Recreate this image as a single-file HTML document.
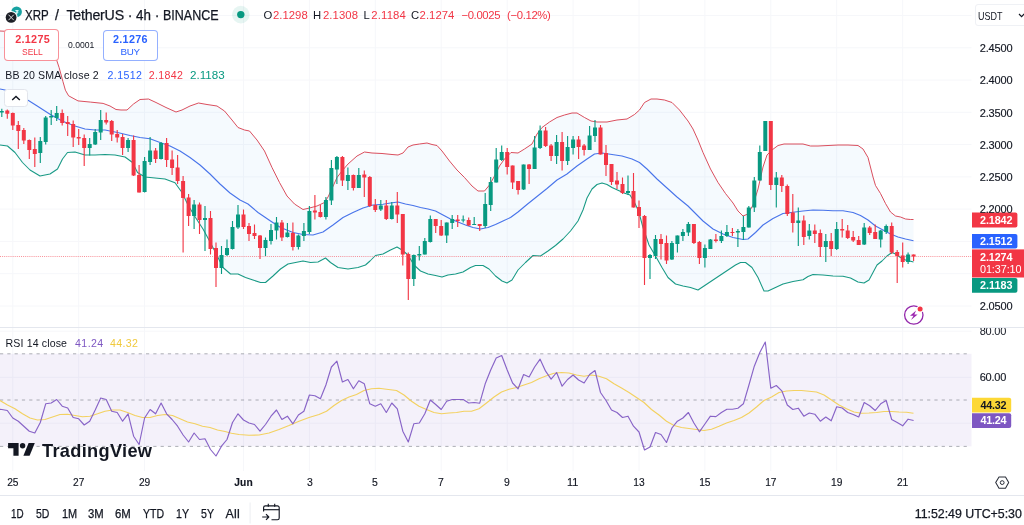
<!DOCTYPE html><html><head><meta charset="utf-8"><title>XRP / TetherUS chart</title><style>
html,body{margin:0;padding:0;background:#fff}
body{width:1024px;height:525px;position:relative;overflow:hidden;font-family:"Liberation Sans",sans-serif;color:#131722}
.t{position:absolute;white-space:nowrap;line-height:1;transform-origin:0 50%}
.btn{position:absolute;background:#fff;border:1px solid;border-radius:4px;box-sizing:border-box}
</style></head><body>
<svg width="1024" height="525" viewBox="0 0 1024 525" style="position:absolute;left:0;top:0">
<path d="M12.8,0 V471 M78.7,0 V471 M144.6,0 V471 M243.5,0 V471 M309.4,0 V471 M375.3,0 V471 M441.2,0 V471 M507.2,0 V471 M573.1,0 V471 M639.0,0 V471 M704.9,0 V471 M770.8,0 V471 M836.7,0 V471 M902.7,0 V471 M0,15.5 H971.5 M0,47.8 H971.5 M0,80.1 H971.5 M0,112.3 H971.5 M0,144.6 H971.5 M0,176.9 H971.5 M0,209.1 H971.5 M0,241.4 H971.5 M0,273.7 H971.5 M0,306.0 H971.5 M0,331.2 H971.5 M0,377.3 H971.5 M0,423.2 H971.5" stroke="#f6f7fa" stroke-width="1" fill="none"/>
<path d="M0,327.5 H1024" stroke="#e4e7ee" stroke-width="1"/>
<path d="M0.0,31.0 L20.0,32.0 L40.0,36.0 L52.0,48.0 L56.6,60.0 L59.1,67.5 L62.9,81.4 L65.4,90.2 L68.6,95.8 L78.0,100.9 L90.6,102.1 L103.1,103.4 L110.0,106.0 L116.0,109.5 L121.0,110.0 L127.0,110.0 L133.5,104.0 L140.0,99.5 L148.5,99.0 L156.0,102.5 L166.0,107.5 L176.0,112.0 L182.0,110.0 L190.0,106.0 L198.5,103.0 L207.0,104.5 L217.0,106.0 L224.5,111.0 L232.0,120.0 L238.0,127.5 L244.5,130.0 L249.5,131.0 L257.0,140.0 L264.5,151.0 L272.0,167.5 L279.5,182.5 L287.0,196.0 L294.5,204.0 L303.0,209.5 L309.5,208.0 L317.0,206.0 L324.5,202.5 L328.0,197.0 L332.0,188.5 L337.0,177.5 L342.0,171.0 L348.0,164.0 L357.0,156.0 L364.5,152.0 L372.0,153.0 L382.0,153.5 L392.0,154.5 L398.0,155.0 L403.0,153.0 L408.0,147.0 L413.0,145.0 L419.5,144.0 L427.0,143.0 L432.0,144.5 L437.0,145.5 L442.0,151.0 L449.5,161.0 L457.0,170.0 L464.5,177.5 L472.0,186.0 L478.0,191.0 L484.5,191.0 L489.5,185.0 L494.5,176.0 L499.5,166.0 L504.5,159.0 L511.0,152.5 L518.0,153.0 L524.5,149.0 L532.0,144.0 L537.0,134.0 L542.0,127.5 L549.5,122.0 L557.0,117.5 L564.5,115.0 L572.0,113.0 L577.0,113.0 L584.5,117.5 L591.0,121.0 L597.0,122.0 L607.0,122.0 L617.0,120.0 L627.0,119.0 L634.5,114.5 L639.5,110.0 L644.5,102.5 L651.0,99.0 L657.0,99.0 L664.5,100.0 L672.0,102.5 L679.5,110.0 L688.0,121.0 L693.0,129.0 L698.0,140.0 L703.0,152.5 L710.5,169.0 L718.0,182.5 L725.5,193.5 L733.0,203.0 L738.0,211.0 L743.0,216.0 L748.0,214.0 L753.0,205.0 L758.0,189.0 L763.0,167.0 L767.0,155.0 L772.0,150.0 L778.0,145.5 L784.0,144.0 L793.0,144.0 L803.0,144.0 L810.5,146.0 L818.0,146.0 L828.0,145.5 L838.0,145.0 L848.0,145.0 L858.0,145.5 L863.0,149.0 L868.0,157.5 L873.0,177.0 L875.5,185.5 L880.5,193.5 L885.5,203.5 L890.5,212.0 L895.5,216.0 L900.5,217.0 L905.5,219.0 L910.5,219.5 L913.5,219.5 L913.5,262.0 L905.5,260.0 L900.5,257.5 L895.5,254.0 L892.0,252.5 L887.0,256.0 L882.0,261.0 L877.0,265.0 L873.0,272.5 L869.0,280.0 L864.0,283.0 L858.0,282.0 L850.5,278.0 L843.0,276.3 L833.0,276.0 L823.0,275.0 L813.0,274.5 L808.0,276.5 L803.0,279.7 L793.0,281.5 L783.0,284.0 L775.5,287.5 L768.0,291.0 L764.0,291.0 L758.0,277.5 L752.0,267.5 L745.5,262.5 L740.5,262.5 L735.5,265.0 L728.0,270.0 L720.5,275.0 L713.0,280.0 L705.5,285.0 L698.0,290.0 L690.5,287.5 L683.0,286.0 L675.5,284.0 L668.0,277.5 L662.0,267.5 L655.5,256.0 L649.0,245.0 L643.0,227.5 L638.5,211.0 L634.5,202.5 L630.0,195.0 L624.0,193.0 L618.0,190.3 L612.0,187.5 L607.0,184.5 L602.0,183.0 L597.0,184.5 L592.0,189.0 L587.0,198.0 L583.0,210.0 L578.0,221.0 L570.5,231.0 L563.0,239.0 L555.5,245.5 L548.0,251.0 L540.5,256.0 L533.0,255.5 L525.5,262.5 L518.0,270.0 L512.0,280.0 L507.0,283.0 L502.0,281.0 L495.5,276.0 L489.0,269.0 L483.0,265.5 L475.5,265.5 L470.5,267.5 L463.0,272.0 L455.5,274.0 L448.0,275.0 L442.0,277.0 L435.5,275.5 L428.0,274.0 L420.5,271.0 L414.0,265.0 L408.0,255.0 L402.0,250.0 L397.0,247.0 L390.5,250.0 L383.0,254.0 L375.5,255.5 L370.0,261.0 L365.5,265.0 L358.0,267.5 L348.0,269.0 L338.0,267.5 L330.5,262.5 L325.5,258.0 L318.0,262.0 L310.5,262.5 L303.0,261.0 L295.5,262.5 L288.0,264.0 L280.5,269.0 L273.0,276.0 L265.5,282.5 L260.5,282.5 L253.0,280.0 L245.5,277.5 L238.0,274.0 L230.5,274.0 L223.0,267.5 L215.5,252.5 L209.0,240.0 L203.0,229.0 L195.5,217.5 L188.0,205.0 L182.0,192.5 L175.0,182.7 L165.0,179.0 L155.0,178.0 L145.0,177.0 L137.5,172.5 L132.5,162.5 L125.0,157.0 L115.0,155.0 L105.0,154.5 L95.0,155.0 L85.0,155.0 L75.0,152.0 L67.5,152.5 L62.5,159.0 L57.5,169.0 L50.0,174.0 L40.0,176.0 L30.0,170.0 L22.5,162.5 L15.0,152.5 L7.5,146.0 L0.0,145.0 Z" fill="#2196f3" fill-opacity="0.048" stroke="none"/>
<path d="M0.0,31.0 L20.0,32.0 L40.0,36.0 L52.0,48.0 L56.6,60.0 L59.1,67.5 L62.9,81.4 L65.4,90.2 L68.6,95.8 L78.0,100.9 L90.6,102.1 L103.1,103.4 L110.0,106.0 L116.0,109.5 L121.0,110.0 L127.0,110.0 L133.5,104.0 L140.0,99.5 L148.5,99.0 L156.0,102.5 L166.0,107.5 L176.0,112.0 L182.0,110.0 L190.0,106.0 L198.5,103.0 L207.0,104.5 L217.0,106.0 L224.5,111.0 L232.0,120.0 L238.0,127.5 L244.5,130.0 L249.5,131.0 L257.0,140.0 L264.5,151.0 L272.0,167.5 L279.5,182.5 L287.0,196.0 L294.5,204.0 L303.0,209.5 L309.5,208.0 L317.0,206.0 L324.5,202.5 L328.0,197.0 L332.0,188.5 L337.0,177.5 L342.0,171.0 L348.0,164.0 L357.0,156.0 L364.5,152.0 L372.0,153.0 L382.0,153.5 L392.0,154.5 L398.0,155.0 L403.0,153.0 L408.0,147.0 L413.0,145.0 L419.5,144.0 L427.0,143.0 L432.0,144.5 L437.0,145.5 L442.0,151.0 L449.5,161.0 L457.0,170.0 L464.5,177.5 L472.0,186.0 L478.0,191.0 L484.5,191.0 L489.5,185.0 L494.5,176.0 L499.5,166.0 L504.5,159.0 L511.0,152.5 L518.0,153.0 L524.5,149.0 L532.0,144.0 L537.0,134.0 L542.0,127.5 L549.5,122.0 L557.0,117.5 L564.5,115.0 L572.0,113.0 L577.0,113.0 L584.5,117.5 L591.0,121.0 L597.0,122.0 L607.0,122.0 L617.0,120.0 L627.0,119.0 L634.5,114.5 L639.5,110.0 L644.5,102.5 L651.0,99.0 L657.0,99.0 L664.5,100.0 L672.0,102.5 L679.5,110.0 L688.0,121.0 L693.0,129.0 L698.0,140.0 L703.0,152.5 L710.5,169.0 L718.0,182.5 L725.5,193.5 L733.0,203.0 L738.0,211.0 L743.0,216.0 L748.0,214.0 L753.0,205.0 L758.0,189.0 L763.0,167.0 L767.0,155.0 L772.0,150.0 L778.0,145.5 L784.0,144.0 L793.0,144.0 L803.0,144.0 L810.5,146.0 L818.0,146.0 L828.0,145.5 L838.0,145.0 L848.0,145.0 L858.0,145.5 L863.0,149.0 L868.0,157.5 L873.0,177.0 L875.5,185.5 L880.5,193.5 L885.5,203.5 L890.5,212.0 L895.5,216.0 L900.5,217.0 L905.5,219.0 L910.5,219.5 L913.5,219.5" fill="none" stroke="#d63c4c" stroke-width="1.0" stroke-opacity="0.9" stroke-linejoin="round"/>
<path d="M0.0,145.0 L7.5,146.0 L15.0,152.5 L22.5,162.5 L30.0,170.0 L40.0,176.0 L50.0,174.0 L57.5,169.0 L62.5,159.0 L67.5,152.5 L75.0,152.0 L85.0,155.0 L95.0,155.0 L105.0,154.5 L115.0,155.0 L125.0,157.0 L132.5,162.5 L137.5,172.5 L145.0,177.0 L155.0,178.0 L165.0,179.0 L175.0,182.7 L182.0,192.5 L188.0,205.0 L195.5,217.5 L203.0,229.0 L209.0,240.0 L215.5,252.5 L223.0,267.5 L230.5,274.0 L238.0,274.0 L245.5,277.5 L253.0,280.0 L260.5,282.5 L265.5,282.5 L273.0,276.0 L280.5,269.0 L288.0,264.0 L295.5,262.5 L303.0,261.0 L310.5,262.5 L318.0,262.0 L325.5,258.0 L330.5,262.5 L338.0,267.5 L348.0,269.0 L358.0,267.5 L365.5,265.0 L370.0,261.0 L375.5,255.5 L383.0,254.0 L390.5,250.0 L397.0,247.0 L402.0,250.0 L408.0,255.0 L414.0,265.0 L420.5,271.0 L428.0,274.0 L435.5,275.5 L442.0,277.0 L448.0,275.0 L455.5,274.0 L463.0,272.0 L470.5,267.5 L475.5,265.5 L483.0,265.5 L489.0,269.0 L495.5,276.0 L502.0,281.0 L507.0,283.0 L512.0,280.0 L518.0,270.0 L525.5,262.5 L533.0,255.5 L540.5,256.0 L548.0,251.0 L555.5,245.5 L563.0,239.0 L570.5,231.0 L578.0,221.0 L583.0,210.0 L587.0,198.0 L592.0,189.0 L597.0,184.5 L602.0,183.0 L607.0,184.5 L612.0,187.5 L618.0,190.3 L624.0,193.0 L630.0,195.0 L634.5,202.5 L638.5,211.0 L643.0,227.5 L649.0,245.0 L655.5,256.0 L662.0,267.5 L668.0,277.5 L675.5,284.0 L683.0,286.0 L690.5,287.5 L698.0,290.0 L705.5,285.0 L713.0,280.0 L720.5,275.0 L728.0,270.0 L735.5,265.0 L740.5,262.5 L745.5,262.5 L752.0,267.5 L758.0,277.5 L764.0,291.0 L768.0,291.0 L775.5,287.5 L783.0,284.0 L793.0,281.5 L803.0,279.7 L808.0,276.5 L813.0,274.5 L823.0,275.0 L833.0,276.0 L843.0,276.3 L850.5,278.0 L858.0,282.0 L864.0,283.0 L869.0,280.0 L873.0,272.5 L877.0,265.0 L882.0,261.0 L887.0,256.0 L892.0,252.5 L895.5,254.0 L900.5,257.5 L905.5,260.0 L913.5,262.0" fill="none" stroke="#0b937d" stroke-width="1.05" stroke-opacity="0.95" stroke-linejoin="round"/>
<path d="M0.0,89.0 L5.0,90.0 L15.0,94.0 L28.5,100.5 L37.6,106.3 L50.0,114.2 L62.7,121.3 L75.0,126.0 L85.0,129.0 L95.0,130.0 L105.0,130.0 L117.5,132.5 L130.0,135.5 L140.0,137.5 L150.0,138.8 L160.0,142.5 L170.0,146.0 L180.0,151.0 L190.0,157.5 L200.0,165.0 L210.0,174.0 L220.0,184.0 L230.0,193.0 L240.0,200.0 L248.0,204.0 L258.0,212.5 L270.5,221.0 L280.5,227.5 L293.0,232.5 L303.0,234.5 L313.0,235.0 L323.0,232.0 L333.0,225.0 L343.0,217.5 L353.0,212.5 L363.0,208.0 L373.0,205.0 L383.0,204.3 L390.5,203.0 L398.0,202.0 L405.5,204.0 L413.0,205.5 L420.5,207.5 L428.0,209.0 L435.5,211.0 L443.0,215.0 L450.5,219.0 L458.0,222.0 L465.5,225.0 L473.0,227.5 L480.5,229.0 L488.0,227.5 L495.5,224.5 L503.0,221.0 L510.5,217.5 L518.0,212.0 L527.0,204.5 L537.0,196.5 L547.0,188.5 L557.0,180.0 L567.0,174.0 L577.0,166.0 L587.0,159.0 L594.5,154.0 L602.0,153.0 L612.0,154.5 L622.0,156.0 L632.0,159.0 L639.5,162.5 L647.0,169.0 L657.0,179.0 L667.0,188.0 L677.0,197.0 L688.0,206.0 L693.0,211.0 L703.0,221.0 L713.0,229.0 L723.0,234.0 L733.0,237.5 L743.0,239.5 L748.0,239.0 L755.5,232.5 L763.0,225.0 L773.0,218.5 L783.0,213.5 L793.0,212.2 L803.0,211.0 L813.0,210.0 L823.0,210.2 L833.0,210.7 L843.0,210.7 L853.0,212.5 L860.5,215.5 L868.0,220.0 L875.5,226.0 L883.0,230.0 L890.5,234.0 L898.0,237.0 L905.5,239.0 L913.5,240.8" fill="none" stroke="#3565e8" stroke-width="1.1" stroke-opacity="0.9" stroke-linejoin="round"/>
<path d="M0,256.5 H971.5" stroke="#f23645" stroke-width="1" stroke-dasharray="1 1.1" stroke-opacity="0.55"/>
<path d="M1.8,108.8 V117.0 M40.3,137.0 V163.0 M45.7,116.0 V144.5 M51.2,110.0 V125.0 M56.7,106.0 V121.0 M89.7,138.0 V155.5 M95.2,129.0 V145.0 M100.7,110.0 V140.0 M128.1,138.0 V152.0 M144.6,157.0 V192.5 M150.1,137.0 V165.0 M161.1,142.0 V159.5 M194.1,200.0 V229.0 M205.0,206.0 V251.0 M221.5,246.0 V274.0 M227.0,239.5 V256.0 M232.5,221.0 V249.5 M238.0,205.0 V229.0 M265.5,237.5 V256.0 M271.0,224.0 V244.5 M276.5,217.0 V239.5 M287.4,223.0 V237.5 M298.4,234.5 V249.5 M303.9,223.0 V241.0 M309.4,206.0 V234.0 M325.9,197.0 V219.5 M331.4,160.0 V205.0 M336.9,156.0 V184.0 M347.9,167.5 V190.0 M358.8,168.0 V188.0 M380.8,200.0 V211.0 M391.8,202.0 V219.5 M413.8,254.5 V286.0 M419.3,246.0 V260.5 M424.8,238.0 V254.5 M430.3,215.5 V242.5 M446.7,222.5 V243.0 M452.2,215.0 V229.0 M463.2,215.5 V222.5 M474.2,217.0 V225.0 M485.2,193.0 V228.0 M490.7,177.0 V211.0 M496.2,148.0 V182.5 M501.7,145.5 V161.0 M523.6,164.5 V190.0 M534.6,136.0 V169.0 M540.1,125.5 V149.0 M556.6,135.0 V164.0 M567.6,136.0 V165.0 M573.1,136.0 V154.5 M589.6,126.0 V150.0 M595.0,120.0 V142.0 M628.0,175.5 V195.0 M650.0,254.0 V279.0 M655.5,235.0 V259.0 M671.9,241.0 V260.0 M677.4,235.5 V252.5 M682.9,229.0 V241.0 M688.4,222.0 V236.0 M704.9,244.5 V267.5 M710.4,239.0 V249.0 M721.4,230.5 V243.0 M726.9,225.0 V237.0 M737.9,229.0 V247.0 M743.4,216.0 V240.0 M748.8,206.0 V227.5 M754.3,177.0 V212.0 M759.8,145.5 V180.5 M765.3,121.0 V151.0 M776.3,172.0 V207.5 M798.3,207.5 V246.0 M809.3,224.0 V239.5 M825.8,234.0 V262.0 M836.7,222.0 V250.0 M864.2,223.0 V245.0 M880.7,230.0 V247.5 M886.2,224.5 V234.0 M908.1,252.5 V264.0" stroke="#089981" stroke-width="1.12" fill="none"/>
<path d="M7.3,109.5 V118.8 M12.8,112.5 V130.0 M18.3,121.0 V149.0 M23.8,128.0 V144.0 M29.3,139.5 V159.0 M34.8,137.5 V167.0 M62.2,109.5 V125.5 M67.7,116.0 V136.0 M73.2,120.5 V147.0 M78.7,129.0 V145.0 M84.2,134.5 V166.0 M106.2,112.5 V124.5 M111.7,120.0 V141.0 M117.2,130.0 V142.5 M122.6,134.0 V155.0 M133.6,135.5 V176.0 M139.1,165.0 V192.5 M155.6,148.0 V163.0 M166.6,138.0 V167.0 M172.1,150.5 V175.0 M177.6,155.0 V184.0 M183.1,176.0 V252.5 M188.6,194.0 V226.0 M199.5,202.5 V234.0 M210.5,211.0 V254.5 M216.0,242.5 V287.0 M243.5,209.5 V229.0 M249.0,223.0 V241.0 M254.5,224.5 V239.0 M260.0,235.0 V259.0 M281.9,220.0 V241.0 M292.9,222.5 V250.5 M314.9,195.0 V219.5 M320.4,205.0 V217.5 M342.4,156.0 V186.0 M353.4,174.5 V190.5 M364.3,170.5 V197.0 M369.8,176.0 V207.0 M375.3,199.0 V212.0 M386.3,200.0 V220.0 M397.3,192.0 V223.0 M402.8,214.0 V265.5 M408.3,252.5 V300.0 M435.7,219.0 V233.0 M441.2,220.0 V236.0 M457.7,215.0 V227.0 M468.7,217.5 V226.0 M479.7,224.0 V231.0 M507.2,148.0 V174.5 M512.6,165.5 V189.0 M518.1,181.0 V194.5 M529.1,164.0 V184.0 M545.6,127.0 V147.0 M551.1,144.0 V161.0 M562.1,132.0 V170.5 M578.6,136.0 V159.0 M584.1,144.0 V155.5 M600.5,125.0 V154.5 M606.0,145.0 V176.0 M611.5,164.0 V185.0 M617.0,172.0 V189.0 M622.5,177.5 V194.0 M633.5,173.0 V207.5 M639.0,200.5 V228.0 M644.5,215.0 V285.0 M661.0,234.0 V259.5 M666.5,235.5 V264.0 M693.9,224.0 V244.0 M699.4,241.0 V264.0 M715.9,234.0 V242.5 M732.4,228.0 V236.0 M770.8,121.0 V190.0 M781.8,175.0 V192.0 M787.3,184.5 V216.0 M792.8,194.0 V232.5 M803.8,215.5 V245.0 M814.8,224.5 V243.0 M820.3,229.5 V257.0 M831.2,233.0 V256.0 M842.2,219.0 V237.5 M847.7,225.0 V239.0 M853.2,231.0 V242.0 M858.7,236.0 V245.0 M869.7,226.0 V235.0 M875.2,224.5 V239.0 M891.7,222.5 V254.0 M897.2,250.0 V283.0 M902.7,242.5 V267.5 M913.6,254.5 V261.0" stroke="#f23645" stroke-width="1.12" fill="none"/>
<path d="M-0.2,111.0 h4 V112.5 h-4 Z M38.3,141.0 h4 V153.0 h-4 Z M43.7,117.5 h4 V142.0 h-4 Z M49.2,116.0 h4 V117.5 h-4 Z M54.7,113.0 h4 V118.0 h-4 Z M87.7,144.0 h4 V148.0 h-4 Z M93.2,132.0 h4 V144.5 h-4 Z M98.7,120.0 h4 V132.5 h-4 Z M126.1,140.0 h4 V148.0 h-4 Z M142.6,161.0 h4 V192.0 h-4 Z M148.1,150.5 h4 V162.0 h-4 Z M159.1,143.0 h4 V159.0 h-4 Z M192.1,204.5 h4 V216.0 h-4 Z M203.0,218.0 h4 V220.0 h-4 Z M219.5,255.0 h4 V268.0 h-4 Z M225.0,248.0 h4 V255.0 h-4 Z M230.5,227.0 h4 V249.0 h-4 Z M236.0,214.5 h4 V227.5 h-4 Z M263.5,240.0 h4 V248.0 h-4 Z M269.0,230.0 h4 V241.0 h-4 Z M274.5,222.5 h4 V230.5 h-4 Z M285.4,232.5 h4 V237.0 h-4 Z M296.4,235.5 h4 V247.0 h-4 Z M301.9,231.0 h4 V236.0 h-4 Z M307.4,211.0 h4 V232.0 h-4 Z M323.9,200.0 h4 V217.0 h-4 Z M329.4,168.0 h4 V200.5 h-4 Z M334.9,157.0 h4 V169.5 h-4 Z M345.9,175.0 h4 V181.0 h-4 Z M356.8,175.0 h4 V188.0 h-4 Z M378.8,205.5 h4 V209.5 h-4 Z M389.8,205.5 h4 V219.0 h-4 Z M411.8,255.0 h4 V279.0 h-4 Z M417.3,254.0 h4 V255.5 h-4 Z M422.8,241.0 h4 V254.5 h-4 Z M428.3,219.0 h4 V242.0 h-4 Z M444.7,222.5 h4 V235.5 h-4 Z M450.2,219.0 h4 V223.0 h-4 Z M461.2,219.5 h4 V220.5 h-4 Z M472.2,224.0 h4 V225.0 h-4 Z M483.2,204.0 h4 V226.0 h-4 Z M488.7,182.0 h4 V205.0 h-4 Z M494.2,159.5 h4 V182.5 h-4 Z M499.7,152.0 h4 V160.0 h-4 Z M521.6,164.5 h4 V189.5 h-4 Z M532.6,147.5 h4 V169.0 h-4 Z M538.1,130.5 h4 V148.0 h-4 Z M554.6,142.0 h4 V156.0 h-4 Z M565.6,147.0 h4 V161.0 h-4 Z M571.1,139.5 h4 V148.0 h-4 Z M587.6,135.5 h4 V150.0 h-4 Z M593.0,127.5 h4 V136.0 h-4 Z M626.0,191.0 h4 V193.0 h-4 Z M648.0,255.0 h4 V258.0 h-4 Z M653.5,239.0 h4 V256.0 h-4 Z M669.9,243.0 h4 V259.5 h-4 Z M675.4,235.5 h4 V244.0 h-4 Z M680.9,232.0 h4 V236.0 h-4 Z M686.4,224.0 h4 V232.5 h-4 Z M702.9,248.0 h4 V258.0 h-4 Z M708.4,239.5 h4 V249.0 h-4 Z M719.4,236.0 h4 V241.0 h-4 Z M724.9,232.0 h4 V236.0 h-4 Z M735.9,231.0 h4 V232.5 h-4 Z M741.4,227.0 h4 V232.0 h-4 Z M746.8,207.5 h4 V227.5 h-4 Z M752.3,180.5 h4 V207.5 h-4 Z M757.8,152.0 h4 V180.5 h-4 Z M763.3,121.0 h4 V151.0 h-4 Z M774.3,177.5 h4 V185.0 h-4 Z M796.3,220.5 h4 V223.0 h-4 Z M807.3,230.5 h4 V236.0 h-4 Z M823.8,241.0 h4 V247.0 h-4 Z M834.7,229.0 h4 V249.0 h-4 Z M862.2,227.5 h4 V244.5 h-4 Z M878.7,230.5 h4 V239.5 h-4 Z M884.2,226.0 h4 V232.0 h-4 Z M906.1,254.5 h4 V262.0 h-4 Z" fill="#089981"/>
<path d="M5.3,110.5 h4 V113.8 h-4 Z M10.8,113.0 h4 V125.5 h-4 Z M16.3,125.0 h4 V131.0 h-4 Z M21.8,130.0 h4 V140.5 h-4 Z M27.3,140.0 h4 V150.0 h-4 Z M32.8,149.0 h4 V154.0 h-4 Z M60.2,113.0 h4 V123.0 h-4 Z M65.7,122.0 h4 V124.0 h-4 Z M71.2,124.0 h4 V137.5 h-4 Z M76.7,137.0 h4 V138.5 h-4 Z M82.2,138.0 h4 V148.0 h-4 Z M104.2,120.0 h4 V122.5 h-4 Z M109.7,121.0 h4 V134.5 h-4 Z M115.2,134.0 h4 V137.5 h-4 Z M120.6,137.0 h4 V148.0 h-4 Z M131.6,140.0 h4 V175.5 h-4 Z M137.1,175.0 h4 V192.5 h-4 Z M153.6,150.5 h4 V159.0 h-4 Z M164.6,143.0 h4 V160.0 h-4 Z M170.1,159.5 h4 V168.0 h-4 Z M175.6,167.5 h4 V181.0 h-4 Z M181.1,181.0 h4 V198.0 h-4 Z M186.6,197.5 h4 V216.0 h-4 Z M197.5,204.5 h4 V220.0 h-4 Z M208.5,218.0 h4 V249.0 h-4 Z M214.0,248.0 h4 V268.0 h-4 Z M241.5,214.5 h4 V227.0 h-4 Z M247.0,226.0 h4 V234.0 h-4 Z M252.5,233.0 h4 V236.0 h-4 Z M258.0,235.5 h4 V248.0 h-4 Z M279.9,222.5 h4 V237.5 h-4 Z M290.9,233.0 h4 V247.0 h-4 Z M312.9,210.5 h4 V212.5 h-4 Z M318.4,212.0 h4 V217.0 h-4 Z M340.4,157.0 h4 V180.5 h-4 Z M351.4,175.0 h4 V188.0 h-4 Z M362.3,174.5 h4 V177.5 h-4 Z M367.8,177.0 h4 V206.0 h-4 Z M373.3,205.0 h4 V210.0 h-4 Z M384.3,205.5 h4 V219.0 h-4 Z M395.3,205.5 h4 V214.5 h-4 Z M400.8,214.0 h4 V254.5 h-4 Z M406.3,254.0 h4 V279.0 h-4 Z M433.7,219.0 h4 V226.0 h-4 Z M439.2,226.0 h4 V235.5 h-4 Z M455.7,219.5 h4 V221.0 h-4 Z M466.7,220.0 h4 V225.5 h-4 Z M477.7,224.0 h4 V226.0 h-4 Z M505.2,152.0 h4 V167.0 h-4 Z M510.6,165.5 h4 V182.5 h-4 Z M516.1,181.0 h4 V190.0 h-4 Z M527.1,164.5 h4 V169.0 h-4 Z M543.6,130.5 h4 V146.0 h-4 Z M549.1,145.5 h4 V156.0 h-4 Z M560.1,142.0 h4 V161.0 h-4 Z M576.6,139.5 h4 V147.0 h-4 Z M582.1,145.5 h4 V150.0 h-4 Z M598.5,127.5 h4 V154.5 h-4 Z M604.0,153.0 h4 V165.0 h-4 Z M609.5,164.0 h4 V182.0 h-4 Z M615.0,180.5 h4 V184.5 h-4 Z M620.5,184.0 h4 V193.0 h-4 Z M631.5,191.0 h4 V207.5 h-4 Z M637.0,207.0 h4 V216.0 h-4 Z M642.5,216.0 h4 V258.0 h-4 Z M659.0,239.0 h4 V244.0 h-4 Z M664.5,243.0 h4 V260.5 h-4 Z M691.9,224.0 h4 V243.0 h-4 Z M697.4,242.0 h4 V258.0 h-4 Z M713.9,239.5 h4 V241.0 h-4 Z M730.4,232.0 h4 V233.0 h-4 Z M768.8,121.0 h4 V185.0 h-4 Z M779.8,177.5 h4 V186.0 h-4 Z M785.3,186.0 h4 V214.0 h-4 Z M790.8,212.5 h4 V223.0 h-4 Z M801.8,220.5 h4 V237.0 h-4 Z M812.8,230.5 h4 V234.0 h-4 Z M818.3,233.0 h4 V247.0 h-4 Z M829.2,241.0 h4 V249.0 h-4 Z M840.2,229.0 h4 V230.5 h-4 Z M845.7,230.5 h4 V238.0 h-4 Z M851.2,237.0 h4 V240.5 h-4 Z M856.7,240.0 h4 V245.0 h-4 Z M867.7,227.5 h4 V233.0 h-4 Z M873.2,232.0 h4 V239.0 h-4 Z M889.7,226.0 h4 V252.5 h-4 Z M895.2,252.0 h4 V256.0 h-4 Z M900.7,255.5 h4 V262.0 h-4 Z M911.6,254.5 h4 V256.5 h-4 Z" fill="#f23645"/>
<rect x="0" y="353.8" width="971.5" height="92.6" fill="#7e57c2" fill-opacity="0.085"/>
<path d="M0,353.8 H969" stroke="#787b86" stroke-width="1" stroke-dasharray="3.2 4.1" stroke-opacity="0.6"/>
<path d="M0,400 H969" stroke="#787b86" stroke-width="1" stroke-dasharray="3.2 4.1" stroke-opacity="0.6"/>
<path d="M0,446.4 H969" stroke="#787b86" stroke-width="1" stroke-dasharray="3.2 4.1" stroke-opacity="0.6"/>
<path d="M0.0,400.5 L7.5,405.0 L15.0,408.8 L22.5,413.8 L30.0,418.0 L37.5,420.0 L45.0,419.5 L52.5,417.0 L60.0,414.5 L67.5,414.2 L75.0,415.5 L82.5,416.8 L90.0,416.2 L97.5,413.8 L105.0,411.2 L112.5,410.0 L120.0,410.0 L127.5,412.5 L135.0,415.5 L142.5,417.5 L150.0,417.5 L157.5,415.5 L165.0,414.5 L172.5,415.5 L180.0,418.8 L187.5,422.0 L195.0,423.8 L202.5,426.2 L210.0,427.5 L217.5,430.0 L225.0,431.5 L231.5,433.2 L239.0,434.5 L249.0,435.2 L259.0,435.0 L269.0,433.0 L279.0,429.5 L289.0,425.5 L299.0,421.2 L309.0,417.5 L319.0,414.5 L326.5,411.2 L334.0,405.5 L341.5,400.5 L349.0,397.0 L356.5,394.5 L364.0,390.5 L371.5,388.8 L379.0,388.2 L386.5,389.2 L396.5,390.5 L404.0,395.0 L411.5,401.2 L419.0,406.2 L426.5,409.5 L434.0,412.5 L441.5,413.8 L449.0,413.0 L456.5,412.5 L464.0,411.2 L471.5,411.2 L479.0,408.8 L486.5,403.0 L494.0,397.0 L501.5,392.0 L509.0,389.2 L516.5,387.5 L524.0,385.0 L531.5,382.5 L539.0,378.8 L546.5,375.8 L554.0,373.2 L561.5,372.5 L569.0,373.0 L576.5,375.0 L584.0,376.2 L591.5,375.0 L599.0,376.2 L606.5,378.8 L614.0,383.8 L621.5,388.0 L629.0,392.5 L636.5,397.5 L644.0,402.5 L651.5,409.5 L659.0,415.0 L666.5,421.2 L674.0,425.5 L681.5,427.5 L689.0,428.5 L696.5,429.5 L704.0,430.5 L711.5,429.2 L719.0,426.2 L726.5,423.0 L734.0,420.5 L741.5,417.5 L749.0,413.0 L756.5,407.0 L764.0,400.5 L771.5,397.0 L779.0,392.5 L786.5,391.0 L794.0,390.5 L801.5,390.5 L809.0,391.2 L816.5,392.0 L824.0,395.0 L831.5,400.0 L839.0,405.0 L846.5,408.8 L854.0,412.0 L861.5,413.2 L869.0,413.0 L876.5,412.5 L884.0,411.5 L891.5,411.5 L899.0,412.0 L906.5,412.2 L913.5,413.2" fill="none" stroke="#f3d160" stroke-width="1.15" stroke-linejoin="round"/>
<path d="M-3.7,409.0 L1.8,409.5 L7.3,410.5 L12.8,418.0 L18.3,421.2 L23.8,426.2 L29.3,431.2 L34.8,433.0 L40.3,422.5 L45.7,403.8 L51.2,403.0 L56.7,399.5 L62.2,406.2 L67.7,408.0 L73.2,417.5 L78.7,418.8 L84.2,425.0 L89.7,421.2 L95.2,410.0 L100.7,398.0 L106.2,399.5 L111.7,411.2 L117.2,412.5 L122.6,421.2 L128.1,413.8 L133.6,436.2 L139.1,444.5 L144.6,418.0 L150.1,409.5 L155.6,413.8 L161.1,403.0 L166.6,413.8 L172.1,419.5 L177.6,426.2 L183.1,435.0 L188.6,442.0 L194.1,433.0 L199.5,439.5 L205.0,438.8 L210.5,449.5 L216.0,456.0 L221.5,446.2 L227.0,439.5 L232.5,422.5 L238.0,413.8 L243.5,420.0 L249.0,423.0 L254.5,424.5 L260.0,431.2 L265.5,424.5 L271.0,416.2 L276.5,410.0 L281.9,419.5 L287.4,416.2 L292.9,423.8 L298.4,415.0 L303.9,411.2 L309.4,395.0 L314.9,395.8 L320.4,398.8 L325.9,385.0 L331.4,367.0 L336.9,361.2 L342.4,382.0 L347.9,379.5 L353.4,388.8 L358.8,380.8 L364.3,383.8 L369.8,403.8 L375.3,406.2 L380.8,403.8 L386.3,412.5 L391.8,403.0 L397.3,408.8 L402.8,431.2 L408.3,442.0 L413.8,423.8 L419.3,423.0 L424.8,413.8 L430.3,400.0 L435.7,404.5 L441.2,409.5 L446.7,401.2 L452.2,399.5 L457.7,399.5 L463.2,399.5 L468.7,403.0 L474.2,402.5 L479.7,403.2 L485.2,383.8 L490.7,370.0 L496.2,358.0 L501.7,355.5 L507.2,370.0 L512.6,383.0 L518.1,388.8 L523.6,374.5 L529.1,377.0 L534.6,367.0 L540.1,359.2 L545.6,371.2 L551.1,379.2 L556.6,372.5 L562.1,386.2 L567.6,379.5 L573.1,375.0 L578.6,380.0 L584.1,383.0 L589.6,374.5 L595.0,370.5 L600.5,392.5 L606.0,400.5 L611.5,410.0 L617.0,412.5 L622.5,417.5 L628.0,416.2 L633.5,426.2 L639.0,432.0 L644.5,450.0 L650.0,447.0 L655.5,432.5 L661.0,434.5 L666.5,442.5 L671.9,428.0 L677.4,421.2 L682.9,418.0 L688.4,412.5 L693.9,423.0 L699.4,431.8 L704.9,424.0 L710.4,416.2 L715.9,416.6 L721.4,412.5 L726.9,409.2 L732.4,409.2 L737.9,408.2 L743.4,403.8 L748.8,385.5 L754.3,366.2 L759.8,352.5 L765.3,342.0 L770.8,388.2 L776.3,385.5 L781.8,390.8 L787.3,405.0 L792.8,409.5 L798.3,408.2 L803.8,416.2 L809.3,413.0 L814.8,414.2 L820.3,421.2 L825.8,417.0 L831.2,420.8 L836.7,406.8 L842.2,408.0 L847.7,412.5 L853.2,414.5 L858.7,417.0 L864.2,402.5 L869.7,405.8 L875.2,410.5 L880.7,403.8 L886.2,400.5 L891.7,419.5 L897.2,422.5 L902.7,425.8 L908.1,419.2 L913.6,420.5" fill="none" stroke="#7e57c2" stroke-width="1.15" stroke-opacity="0.92" stroke-linejoin="round"/>
<path d="M0,495.5 H1024" stroke="#e4e7ee" stroke-width="1"/>
<path d="M250.1,502.5 V523.5" stroke="#eceef2" stroke-width="1"/>
<path d="M972,212.6 h43.4 a2,2 0 0 1 2,2 v11 a2,2 0 0 1 -2,2 h-43.4 Z" fill="#f23645"/>
<path d="M972,234 h43.4 a2,2 0 0 1 2,2 v10.5 a2,2 0 0 1 -2,2 h-43.4 Z" fill="#2962ff"/>
<rect x="972" y="249.4" width="52" height="28.1" fill="#f23645"/>
<path d="M972,278 h43.4 a2,2 0 0 1 2,2 v10.8 a2,2 0 0 1 -2,2 h-43.4 Z" fill="#089981"/>
<path d="M972,397.7 h37.2 a2,2 0 0 1 2,2 v10.7 a2,2 0 0 1 -2,2 h-37.2 Z" fill="#fdd835"/>
<path d="M972,413.3 h37.2 a2,2 0 0 1 2,2 v10.7 a2,2 0 0 1 -2,2 h-37.2 Z" fill="#7e57c2"/>
<circle cx="913.8" cy="315.0" r="9.2" fill="#fff" stroke="#9327ab" stroke-width="1.3"/>
<path d="M916.1,310.4 L910,315.7 L913.5,315.7 L911,320.1 L917.6,314.5 L914.3,314.5 Z" fill="#9c27b0"/>
<circle cx="920.1" cy="308.9" r="3.5" fill="#fff"/><circle cx="920.1" cy="308.9" r="2.5" fill="#f23645"/>
<path d="M1008.7,482.6 L1005.5,488.2 L999.0,488.2 L995.7,482.6 L999.0,477.0 L1005.5,477.0 Z" fill="none" stroke="#2a2e39" stroke-width="1.05" stroke-linejoin="round"/>
<circle cx="1002.2" cy="482.6" r="1.9" fill="none" stroke="#2a2e39" stroke-width="1.0"/>
<g fill="none" stroke="#131722" stroke-width="1.15" stroke-linejoin="round"><path d="M263.6,511.4 V507.6 a1.8,1.8 0 0 1 1.8,-1.8 h12 a1.8,1.8 0 0 1 1.8,1.8 V517.9 a1.8,1.8 0 0 1 -1.8,1.8 H271.5"/><path d="M263.6,509.7 H279.2"/><path d="M268.3,503.8 V506.8 M274.7,503.8 V506.8"/><path d="M262.2,517 H268.4 M266,514.2 L268.8,517 L266,519.8"/></g>
<circle cx="16.6" cy="11.7" r="5.3" fill="#17a2a2"/>
<text x="16.9" y="13.6" font-family="Liberation Sans, sans-serif" font-size="5.5" font-weight="700" fill="#e8ffff" text-anchor="middle">₮</text>
<circle cx="11.1" cy="17.4" r="6.5" fill="#fff"/><circle cx="11.1" cy="17.4" r="5.4" fill="#1c1f26"/>
<path d="M8.5,14.7 L13.8,20.2 M13.8,14.7 L8.5,20.2" stroke="#e4e4e6" stroke-width="0.95" fill="none"/>
<circle cx="240.8" cy="14.6" r="8.8" fill="#089981" fill-opacity="0.1"/><circle cx="240.8" cy="14.6" r="3.7" fill="#089981"/>
<path d="M8.1,443 H18.6 V455.7 H13.4 V448.2 H8.1 Z" fill="#131722"/><circle cx="22.6" cy="445.7" r="2.7" fill="#131722"/><path d="M28.6,443 H34.8 L29.6,455.7 H23.4 Z" fill="#131722"/>
</svg>
<div class="btn" style="left:4.4px;top:29.2px;width:54.7px;height:31.8px;border-color:rgba(242,54,69,.55)"></div>
<div class="btn" style="left:102.5px;top:29.5px;width:55.5px;height:31.3px;border-color:rgba(41,98,255,.5)"></div>
<div class="btn" style="left:3.5px;top:89.2px;width:24.8px;height:18px;border-color:#e2e5ec;border-radius:3.5px;background:#fff"></div>
<svg width="10" height="6" viewBox="0 0 10 6" style="position:absolute;left:10.9px;top:94.9px"><path d="M1.2,5 L5,1.4 L8.8,5" fill="none" stroke="#131722" stroke-width="1.4"/></svg>
<div class="btn" style="left:974.8px;top:3.8px;width:60px;height:22.4px;border-color:#eff1f5;border-radius:3px"></div>
<svg width="8" height="5" viewBox="0 0 8 5" style="position:absolute;left:1017.6px;top:13.2px"><path d="M1,1 L3.6,3.6 L6.2,1" fill="none" stroke="#131722" stroke-width="1.2"/></svg>
<div class="t" id="t0" style="left:25.20px;top:8.40px;font-size:14.2px;font-weight:400;color:#131722;transform:scaleX(0.8124);-webkit-text-stroke:0.25px #131722">XRP</div>
<div class="t" id="t1" style="left:55.00px;top:8.40px;font-size:14.2px;font-weight:400;color:#131722;-webkit-text-stroke:0.25px #131722">/</div>
<div class="t" id="t2" style="left:66.50px;top:8.40px;font-size:14.2px;font-weight:400;color:#131722;letter-spacing:-0.220px;-webkit-text-stroke:0.25px #131722">TetherUS</div>
<div class="t" id="t3" style="left:127.80px;top:8.40px;font-size:14.2px;font-weight:400;color:#131722;-webkit-text-stroke:0.25px #131722">·</div>
<div class="t" id="t4" style="left:135.80px;top:8.40px;font-size:14.2px;font-weight:400;color:#131722;transform:scaleX(0.9442);-webkit-text-stroke:0.25px #131722">4h</div>
<div class="t" id="t5" style="left:154.80px;top:8.40px;font-size:14.2px;font-weight:400;color:#131722;-webkit-text-stroke:0.25px #131722">·</div>
<div class="t" id="t6" style="left:162.60px;top:8.40px;font-size:14.2px;font-weight:400;color:#131722;transform:scaleX(0.8814);-webkit-text-stroke:0.25px #131722">BINANCE</div>
<div class="t" id="t7" style="left:263.50px;top:9.65px;font-size:11.3px;font-weight:400;color:#131722">O</div>
<div class="t" id="t8" style="left:272.90px;top:9.65px;font-size:11.3px;font-weight:400;color:#f23645;letter-spacing:0.048px">2.1298</div>
<div class="t" id="t9" style="left:313.10px;top:9.65px;font-size:11.3px;font-weight:400;color:#131722">H</div>
<div class="t" id="t10" style="left:323.00px;top:9.65px;font-size:11.3px;font-weight:400;color:#f23645;letter-spacing:0.087px">2.1308</div>
<div class="t" id="t11" style="left:363.40px;top:9.65px;font-size:11.3px;font-weight:400;color:#131722">L</div>
<div class="t" id="t12" style="left:371.30px;top:9.65px;font-size:11.3px;font-weight:400;color:#f23645;letter-spacing:0.156px">2.1184</div>
<div class="t" id="t13" style="left:411.00px;top:9.65px;font-size:11.3px;font-weight:400;color:#131722">C</div>
<div class="t" id="t14" style="left:419.60px;top:9.65px;font-size:11.3px;font-weight:400;color:#f23645;letter-spacing:0.047px">2.1274</div>
<div class="t" id="t15" style="left:461.40px;top:9.65px;font-size:11.3px;font-weight:400;color:#f23645;letter-spacing:-0.343px">−0.0025</div>
<div class="t" id="t16" style="left:507.00px;top:9.65px;font-size:11.3px;font-weight:400;color:#f23645;letter-spacing:-0.337px">(−0.12%)</div>
<div class="t" id="t17" style="left:5.30px;top:69.90px;font-size:10.6px;font-weight:400;color:#131722;letter-spacing:0.170px">BB 20 SMA close 2</div>
<div class="t" id="t18" style="left:107.50px;top:69.90px;font-size:10.6px;font-weight:400;color:#2962ff;letter-spacing:0.419px">2.1512</div>
<div class="t" id="t19" style="left:148.75px;top:69.90px;font-size:10.6px;font-weight:400;color:#f23645;letter-spacing:0.369px">2.1842</div>
<div class="t" id="t20" style="left:189.50px;top:69.90px;font-size:10.6px;font-weight:400;color:#089981;transform:scaleX(1.0988)">2.1183</div>
<div class="t" id="t21" style="left:5.50px;top:337.90px;font-size:10.6px;font-weight:400;color:#131722;letter-spacing:0.131px">RSI 14 close</div>
<div class="t" id="t22" style="left:75.00px;top:337.90px;font-size:10.6px;font-weight:400;color:#7e57c2;letter-spacing:0.434px">41.24</div>
<div class="t" id="t23" style="left:110.00px;top:337.90px;font-size:10.6px;font-weight:400;color:#f0c93c;letter-spacing:0.371px">44.32</div>
<div class="t" id="t24" style="left:979.70px;top:43.00px;font-size:11px;font-weight:400;color:#131722;letter-spacing:-0.151px;-webkit-text-stroke:0.15px #131722">2.4500</div>
<div class="t" id="t25" style="left:979.70px;top:75.27px;font-size:11px;font-weight:400;color:#131722;letter-spacing:-0.151px;-webkit-text-stroke:0.15px #131722">2.4000</div>
<div class="t" id="t26" style="left:979.70px;top:107.54px;font-size:11px;font-weight:400;color:#131722;letter-spacing:-0.151px;-webkit-text-stroke:0.15px #131722">2.3500</div>
<div class="t" id="t27" style="left:979.70px;top:139.81px;font-size:11px;font-weight:400;color:#131722;letter-spacing:-0.151px;-webkit-text-stroke:0.15px #131722">2.3000</div>
<div class="t" id="t28" style="left:979.70px;top:172.08px;font-size:11px;font-weight:400;color:#131722;letter-spacing:-0.151px;-webkit-text-stroke:0.15px #131722">2.2500</div>
<div class="t" id="t29" style="left:979.70px;top:204.35px;font-size:11px;font-weight:400;color:#131722;letter-spacing:-0.151px;-webkit-text-stroke:0.15px #131722">2.2000</div>
<div class="t" id="t30" style="left:979.70px;top:301.16px;font-size:11px;font-weight:400;color:#131722;letter-spacing:-0.151px;-webkit-text-stroke:0.15px #131722">2.0500</div>
<div class="t" id="t31" style="left:979.70px;top:326.00px;font-size:11px;font-weight:400;color:#131722;letter-spacing:-0.233px;clip-path:inset(2.1px 0 0 0)">80.00</div>
<div class="t" id="t32" style="left:979.70px;top:372.20px;font-size:11px;font-weight:400;color:#131722;letter-spacing:-0.233px;-webkit-text-stroke:0.15px #131722">60.00</div>
<div class="t" id="t33" style="left:978.30px;top:11.20px;font-size:10.8px;font-weight:400;color:#131722;transform:scaleX(0.8332)">USDT</div>
<div class="t" id="t34" style="left:980.00px;top:214.90px;font-size:10.8px;font-weight:700;color:#fff;letter-spacing:-0.126px">2.1842</div>
<div class="t" id="t35" style="left:980.00px;top:236.00px;font-size:10.8px;font-weight:700;color:#fff;letter-spacing:-0.126px">2.1512</div>
<div class="t" id="t36" style="left:980.00px;top:251.80px;font-size:10.8px;font-weight:700;color:#fff;letter-spacing:-0.126px">2.1274</div>
<div class="t" id="t37" style="left:980.00px;top:264.40px;font-size:10.8px;font-weight:400;color:#fff;letter-spacing:-0.076px">01:37:10</div>
<div class="t" id="t38" style="left:980.00px;top:280.10px;font-size:10.8px;font-weight:700;color:#fff;letter-spacing:-0.008px">2.1183</div>
<div class="t" id="t39" style="left:980.50px;top:399.80px;font-size:10.8px;font-weight:700;color:#131722;letter-spacing:-0.258px">44.32</div>
<div class="t" id="t40" style="left:980.50px;top:415.40px;font-size:10.8px;font-weight:700;color:#fff;letter-spacing:-0.258px">41.24</div>
<div class="t" id="t41" style="left:7.14px;top:478.30px;font-size:10.2px;font-weight:400;color:#131722;letter-spacing:-0.044px;-webkit-text-stroke:0.15px #131722">25</div>
<div class="t" id="t42" style="left:73.05px;top:478.30px;font-size:10.2px;font-weight:400;color:#131722;letter-spacing:-0.044px;-webkit-text-stroke:0.15px #131722">27</div>
<div class="t" id="t43" style="left:138.97px;top:478.30px;font-size:10.2px;font-weight:400;color:#131722;letter-spacing:-0.044px;-webkit-text-stroke:0.15px #131722">29</div>
<div class="t" id="t44" style="left:234.34px;top:478.30px;font-size:10.2px;font-weight:700;color:#131722;letter-spacing:0.088px;-webkit-text-stroke:0.15px #131722">Jun</div>
<div class="t" id="t45" style="left:306.51px;top:478.30px;font-size:10.2px;font-weight:400;color:#131722;transform:scaleX(1.0226);-webkit-text-stroke:0.15px #131722">3</div>
<div class="t" id="t46" style="left:372.42px;top:478.30px;font-size:10.2px;font-weight:400;color:#131722;transform:scaleX(1.0226);-webkit-text-stroke:0.15px #131722">5</div>
<div class="t" id="t47" style="left:438.34px;top:478.30px;font-size:10.2px;font-weight:400;color:#131722;transform:scaleX(1.0226);-webkit-text-stroke:0.15px #131722">7</div>
<div class="t" id="t48" style="left:504.26px;top:478.30px;font-size:10.2px;font-weight:400;color:#131722;transform:scaleX(1.0226);-webkit-text-stroke:0.15px #131722">9</div>
<div class="t" id="t49" style="left:567.42px;top:478.30px;font-size:10.2px;font-weight:400;color:#131722;transform:scaleX(1.0682);-webkit-text-stroke:0.15px #131722">11</div>
<div class="t" id="t50" style="left:633.34px;top:478.30px;font-size:10.2px;font-weight:400;color:#131722;letter-spacing:-0.044px;-webkit-text-stroke:0.15px #131722">13</div>
<div class="t" id="t51" style="left:699.25px;top:478.30px;font-size:10.2px;font-weight:400;color:#131722;letter-spacing:-0.044px;-webkit-text-stroke:0.15px #131722">15</div>
<div class="t" id="t52" style="left:765.17px;top:478.30px;font-size:10.2px;font-weight:400;color:#131722;letter-spacing:-0.044px;-webkit-text-stroke:0.15px #131722">17</div>
<div class="t" id="t53" style="left:831.09px;top:478.30px;font-size:10.2px;font-weight:400;color:#131722;letter-spacing:-0.044px;-webkit-text-stroke:0.15px #131722">19</div>
<div class="t" id="t54" style="left:897.00px;top:478.30px;font-size:10.2px;font-weight:400;color:#131722;letter-spacing:-0.044px;-webkit-text-stroke:0.15px #131722">21</div>
<div class="t" id="t55" style="left:10.90px;top:507.80px;font-size:12.4px;font-weight:400;color:#131722;transform:scaleX(0.7953);-webkit-text-stroke:0.25px #131722">1D</div>
<div class="t" id="t56" style="left:35.80px;top:507.80px;font-size:12.4px;font-weight:400;color:#131722;transform:scaleX(0.8458);-webkit-text-stroke:0.25px #131722">5D</div>
<div class="t" id="t57" style="left:61.50px;top:507.80px;font-size:12.4px;font-weight:400;color:#131722;transform:scaleX(0.8828);-webkit-text-stroke:0.25px #131722">1M</div>
<div class="t" id="t58" style="left:88.30px;top:507.80px;font-size:12.4px;font-weight:400;color:#131722;transform:scaleX(0.9118);-webkit-text-stroke:0.25px #131722">3M</div>
<div class="t" id="t59" style="left:115.00px;top:507.80px;font-size:12.4px;font-weight:400;color:#131722;transform:scaleX(0.9176);-webkit-text-stroke:0.25px #131722">6M</div>
<div class="t" id="t60" style="left:142.50px;top:507.80px;font-size:12.4px;font-weight:400;color:#131722;transform:scaleX(0.8509);-webkit-text-stroke:0.25px #131722">YTD</div>
<div class="t" id="t61" style="left:175.60px;top:507.80px;font-size:12.4px;font-weight:400;color:#131722;transform:scaleX(0.8577);-webkit-text-stroke:0.25px #131722">1Y</div>
<div class="t" id="t62" style="left:200.60px;top:507.80px;font-size:12.4px;font-weight:400;color:#131722;transform:scaleX(0.8577);-webkit-text-stroke:0.25px #131722">5Y</div>
<div class="t" id="t63" style="left:225.60px;top:507.80px;font-size:12.4px;font-weight:400;color:#131722;letter-spacing:0.209px;-webkit-text-stroke:0.25px #131722">All</div>
<div class="t" id="t64" style="left:914.80px;top:507.60px;font-size:12.4px;font-weight:400;color:#131722;letter-spacing:-0.036px;-webkit-text-stroke:0.25px #131722">11:52:49 UTC+5:30</div>
<div class="t" id="t65" style="left:15.20px;top:34.10px;font-size:10.8px;font-weight:700;color:#f23645;letter-spacing:0.294px">2.1275</div>
<div class="t" id="t66" style="left:21.70px;top:47.10px;font-size:9.8px;font-weight:400;color:#f23645;transform:scaleX(0.8678)">SELL</div>
<div class="t" id="t67" style="left:68.00px;top:40.10px;font-size:9.6px;font-weight:400;color:#131722;transform:scaleX(0.8963)">0.0001</div>
<div class="t" id="t68" style="left:113.00px;top:34.10px;font-size:10.8px;font-weight:700;color:#2962ff;letter-spacing:0.294px">2.1276</div>
<div class="t" id="t69" style="left:120.50px;top:47.10px;font-size:9.8px;font-weight:400;color:#2962ff;letter-spacing:-0.328px">BUY</div>
<div class="t" id="t70" style="left:42.00px;top:441.50px;font-size:18.2px;font-weight:700;color:#131722;letter-spacing:0.319px">TradingView</div>
</body></html>
